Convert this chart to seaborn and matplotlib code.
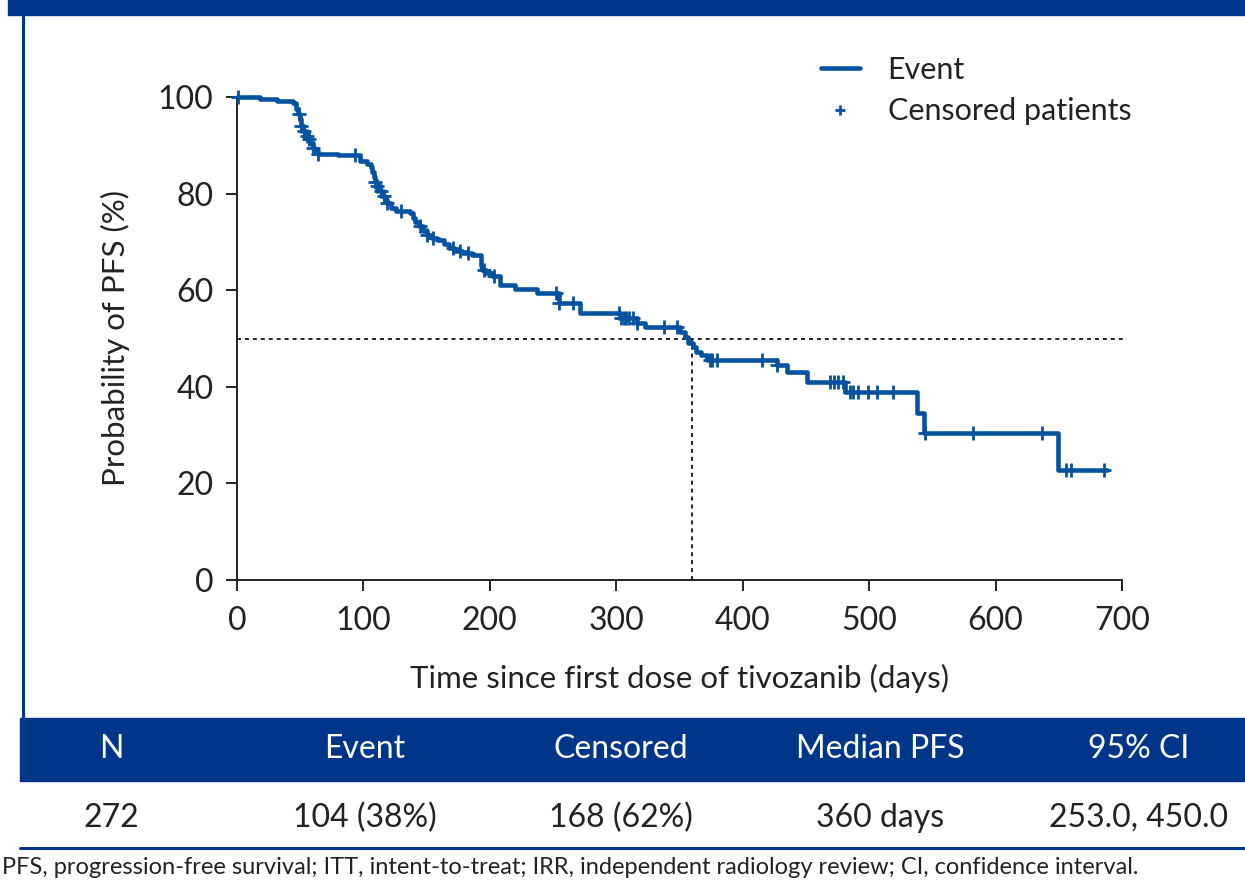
import numpy as np
import pandas as pd
import matplotlib
matplotlib.use("Agg")
import matplotlib.pyplot as plt
from matplotlib.lines import Line2D
from matplotlib.patches import Rectangle
import seaborn as sns

# Kaplan-Meier step points: day of each step and PFS probability (%) after it
step_days = [0, 18, 32, 44, 47, 48, 50, 51, 52, 54, 56, 58, 60, 62, 64, 80, 97,
             103, 106, 107, 108, 109, 111, 113, 115, 117, 119, 122, 126, 137, 139,
             141, 144, 147, 150, 154, 158, 164, 168, 172, 178, 186, 193, 194, 197,
             202, 208, 220, 237, 255, 271, 303, 316, 323, 350, 354, 357, 361, 363,
             367, 372, 427, 435, 451, 481, 538, 543, 649, 688]
step_surv = [100, 99.6, 99.2, 98.7, 97.5, 96.5, 95.5, 94.0, 93.0, 92.0, 91.3,
             90.5, 89.5, 88.8, 88.3, 87.9, 86.7, 86.2, 85.5, 84.5, 83.5, 82.5,
             81.5, 80.5, 79.5, 78.7, 78.0, 77.0, 76.5, 76.0, 75.0, 74.2, 73.2,
             72.2, 71.4, 70.8, 70.3, 69.6, 68.8, 68.2, 67.7, 67.3, 65.0, 64.2,
             63.5, 63.0, 61.0, 60.2, 59.4, 57.4, 55.3, 54.2, 53.2, 52.4, 51.3,
             50.3, 49.0, 48.2, 47.2, 46.6, 45.5, 44.5, 43.1, 41.0, 38.9, 34.6,
             30.4, 22.8, 22.8]

# Days at which patients were censored
censor_days = [1, 49, 51, 53, 55, 57, 60, 64, 93, 109, 111, 114, 116, 119, 130,
               145, 150, 155, 171, 176, 183, 195, 203, 252, 255, 266, 302, 304,
               306, 308, 310, 313, 316, 338, 348, 374, 376, 380, 415, 427, 469,
               472, 475, 479, 485, 487, 491, 499, 506, 519, 544, 582, 637, 656,
               660, 686]

median_day = 360
median_level = 50

x_ticks = [0, 100, 200, 300, 400, 500, 600, 700]
y_ticks = [0, 20, 40, 60, 80, 100]

table_header = ["N", "Event", "Censored", "Median PFS", "95% CI"]
table_values = ["272", "104 (38%)", "168 (62%)", "360 days", "253.0, 450.0"]
footnote = ("PFS, progression-free survival; ITT, intent-to-treat; IRR, independent "
            "radiology review; CI, confidence interval.")

CURVE = "#0452a0"
NAVY = "#00368a"
TEXT = "#222222"

sns.set_style("ticks")
plt.rcParams["font.family"] = ["Lato", "DejaVu Sans"]

W, H = 1245, 881
fig = plt.figure(figsize=(W / 100, H / 100), dpi=100)


def fx(px):
    return px / W


def fy(py):
    return 1 - py / H


ax = fig.add_axes([fx(237), fy(580), fx(1122) - fx(237), fy(97) - fy(580)])

curve = pd.DataFrame({"day": step_days, "surv": step_surv})
sns.lineplot(data=curve, x="day", y="surv", estimator=None, sort=False,
             drawstyle="steps-post", color=CURVE, linewidth=3.3, ax=ax,
             clip_on=False, zorder=3)

# censored marks sit on the curve level in force at each censoring day
idx = np.searchsorted(step_days, censor_days, side="right") - 1
censor = pd.DataFrame({"day": censor_days,
                       "surv": np.asarray(step_surv)[idx]})
sns.scatterplot(data=censor, x="day", y="surv", marker="+", s=110,
                color=CURVE, linewidth=2.0, ax=ax, clip_on=False, zorder=4)

# median PFS guides
ax.plot([0, 704], [median_level, median_level], ls=(0, (2.2, 2.2)),
        color="#111111", lw=1.3, clip_on=False, zorder=2)
ax.plot([median_day, median_day], [0, median_level], ls=(0, (2.2, 2.2)),
        color="#111111", lw=1.3, zorder=2)

ax.set_xlim(0, 700)
ax.set_ylim(0, 100)
ax.set_xticks(x_ticks)
ax.set_yticks(y_ticks)
ax.tick_params(axis="both", direction="out", length=8, width=1.4,
               labelsize=23, colors=TEXT)
ax.tick_params(axis="x", pad=11)
ax.tick_params(axis="y", pad=9)
for s in ("left", "bottom"):
    ax.spines[s].set_linewidth(1.4)
    ax.spines[s].set_color(TEXT)
sns.despine(ax=ax)
ax.set_xlabel("Time since first dose of tivozanib (days)", fontsize=22.5,
              color=TEXT, labelpad=20)
ax.set_ylabel("Probability of PFS (%)", fontsize=22.5, color=TEXT, labelpad=20)

handles = [Line2D([], [], color=CURVE, lw=3.3),
           Line2D([], [], color=CURVE, marker="+", ls="none", ms=7, mew=2)]
fig.legend(handles, ["Event", "Censored patients"], loc="upper left",
           bbox_to_anchor=(fx(793), fy(28)), frameon=False, fontsize=22,
           handlelength=1.3, handletextpad=0.9, labelspacing=0.45,
           labelcolor=TEXT)

# frame pieces: top band and left rule
fig.patches.append(Rectangle((fx(8), fy(15)), 1 - fx(8), fy(0) - fy(15),
                             transform=fig.transFigure, color=NAVY, zorder=0))
fig.add_artist(Line2D([fx(23), fx(23)], [fy(15), fy(718)], color=NAVY, lw=2.2))

# summary table
fig.patches.append(Rectangle((fx(20), fy(781)), 1 - fx(20), fy(718) - fy(781),
                             transform=fig.transFigure, color=NAVY, zorder=0))
col_x = [111, 365, 621, 880, 1139]
for cx, head, val in zip(col_x, table_header, table_values):
    fig.text(fx(cx), fy(749), head, color="white", fontsize=23,
             ha="center", va="center")
    fig.text(fx(cx), fy(818), val, color=TEXT, fontsize=23,
             ha="center", va="center")
fig.add_artist(Line2D([fx(20), 1], [fy(848), fy(848)], color=NAVY, lw=2.2))
fig.text(fx(2), fy(867), footnote, color=TEXT, fontsize=17, ha="left",
         va="center")

fig.savefig("out.png", dpi=100)
